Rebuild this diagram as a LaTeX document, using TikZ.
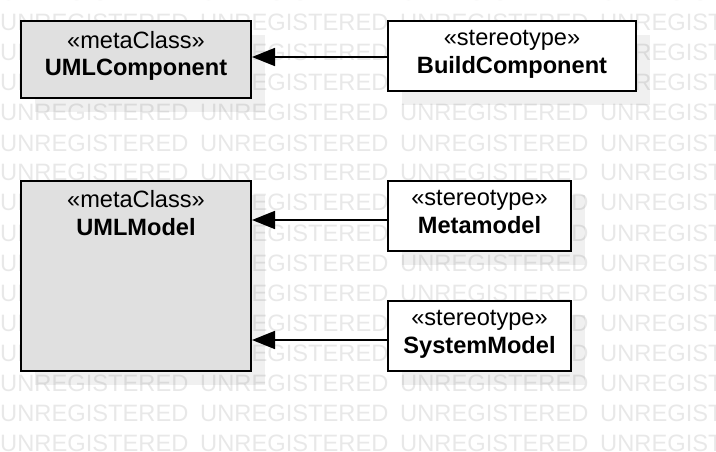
\documentclass[tikz,border=0pt]{standalone}
\usepackage{fontspec}
\setmainfont{Liberation Sans}
\usepackage{xcolor}
\usetikzlibrary{positioning,arrows.meta,shadows}
\definecolor{metagray}{HTML}{E0E0E0}
\definecolor{watermark}{HTML}{E8E8E8}

\begin{document}
\begin{tikzpicture}[x=1pt,y=-1pt,
        classbox/.style={rectangle,draw=black,line width=2pt,fill=white,inner sep=0pt,
          drop shadow={shadow xshift=14pt,shadow yshift=-14pt,fill=black,opacity=0.06}},
        metaclass/.style={classbox,fill=metagray},
        stereo/.style={classbox},
        classname/.style={inner sep=0pt,align=center,font=\fontsize{23.6}{27.5}\selectfont},
        extends/.style={line width=1.7pt,-{Triangle[length=23pt,width=18pt]}},
        wmark/.style={text=watermark,anchor=base west,inner sep=0pt,
          font=\fontsize{23.7}{28}\selectfont}]
      \useasboundingbox (0,0) rectangle (716,452);
      \foreach \row in {0,...,15}
        \foreach \col in {0,...,3}
          \node at (200*\col,1+30*\row) [wmark] (wm-\row-\col) {UNREGISTERED};
      \node at (136,59.5) [metaclass,minimum width=230pt,minimum height=77pt] (comp) {};
      \node at (512,56) [stereo,minimum width=248pt,minimum height=70pt] (build) {};
      \node at (136,276) [metaclass,minimum width=230pt,minimum height=190pt] (model) {};
      \node at (479.5,216) [stereo,minimum width=183pt,minimum height=70pt] (meta) {};
      \node at (479.5,336) [stereo,minimum width=183pt,minimum height=70pt] (sysmodel) {};
      \node [classname,below=11pt of comp.north] (comp-name) {«metaClass»\\\textbf{UMLComponent}};
      \node [classname,below=10.5pt of build.north] (build-name) {«stereotype»\\\textbf{BuildComponent}};
      \node [classname,below=10.5pt of model.north] (model-name) {«metaClass»\\\textbf{UMLModel}};
      \node [classname,below=10.5pt of meta.north] (meta-name) {«stereotype»\\\textbf{Metamodel}};
      \node [classname,below=10.5pt of sysmodel.north] (sysmodel-name) {«stereotype»\\\textbf{SystemModel}};
      \coordinate (build-out) at ([yshift=-1pt]build.west);
      \coordinate (meta-out) at ([yshift=-4pt]meta.west);
      \coordinate (sysmodel-out) at ([yshift=-4pt]sysmodel.west);
      \draw [extends] (build-out) -- (build-out -| comp.east);
      \draw [extends] (meta-out) -- (meta-out -| model.east);
      \draw [extends] (sysmodel-out) -- (sysmodel-out -| model.east);
    \end{tikzpicture}
\end{document}
